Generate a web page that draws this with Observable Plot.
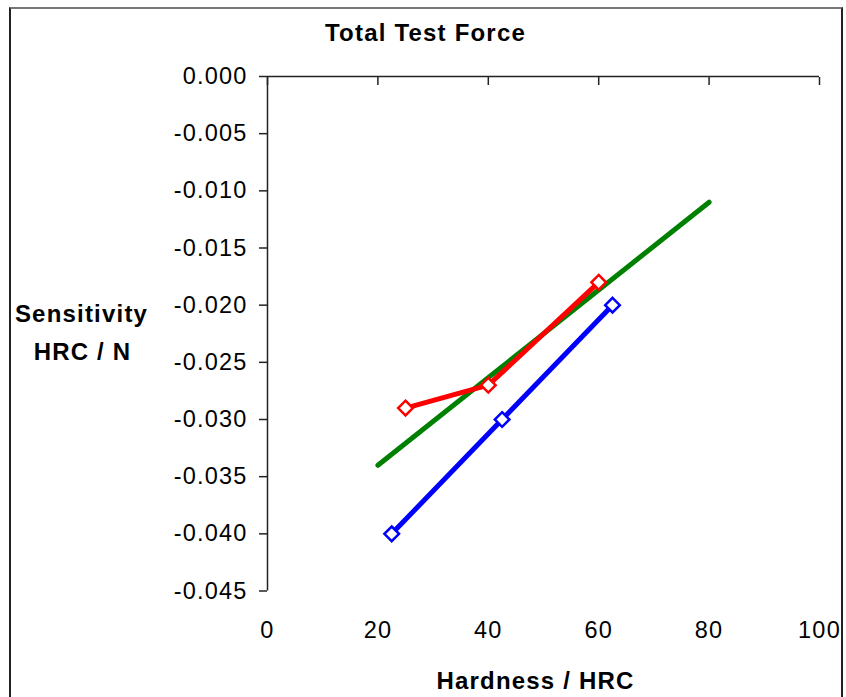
<!DOCTYPE html>
<html>
<head>
<meta charset="utf-8">
<script src="https://cdn.jsdelivr.net/npm/d3@7"></script>
<script src="https://cdn.jsdelivr.net/npm/@observablehq/plot@0.6"></script>
<style>
  html, body { margin: 0; padding: 0; background: #fff; overflow: hidden; }
  #wrap { position: relative; width: 846px; height: 697px; }
  #border { position: absolute; left: 9px; top: 7px; width: 830px; height: 720px;
            border-left: 2px solid #222; border-right: 2px solid #222; border-top: 2px solid #777;
            pointer-events: none; }
</style>
</head>
<body>
<div id="wrap"><div id="border"></div></div>
<script>
// ---- data ----
const redX = [25, 40, 60];
const redY = [-0.029, -0.027, -0.018];
const blueX = [22.5, 42.5, 62.5];
const blueY = [-0.040, -0.030, -0.020];
const greenX = [20, 80];
const greenY = [-0.034, -0.011];
const xTicks = [0, 20, 40, 60, 80, 100];
const yTicks = [0, -0.005, -0.010, -0.015, -0.020, -0.025, -0.030, -0.035, -0.040, -0.045];
const titleText = "Total Test Force";
const xTitle = "Hardness / HRC";
const yTitleLines = ["Sensitivity", "HRC / N"];

const red = redX.map((x, i) => ({x, y: redY[i]}));
const blue = blueX.map((x, i) => ({x, y: blueY[i]}));
const green = greenX.map((x, i) => ({x, y: greenY[i]}));

const W = 846, H = 697;
const mL = 267, mR = 27, mT = 76, mB = 106.5;
const boldStyle = {textAnchor: "middle", lineAnchor: "bottom", fontWeight: "bold", fontSize: 24, frameAnchor: "top-left"};

const chart = Plot.plot({
  width: W, height: H,
  marginLeft: mL, marginRight: mR, marginTop: mT, marginBottom: mB,
  style: {fontFamily: "'Liberation Sans', Arial, sans-serif", fontSize: "23.5px",
          letterSpacing: "1.2px", background: "transparent", color: "black"},
  x: {domain: [0, 100]},
  y: {domain: [-0.045, 0]},
  marks: [
    // axis lines
    Plot.ruleY([0], {stroke: "#222", strokeWidth: 1.5}),
    Plot.ruleX([0], {stroke: "#222", strokeWidth: 1.5}),
    // inward ticks on the top x axis line
    Plot.axisX({anchor: "top", ticks: xTicks, tickSize: 8, dy: 8, tickFormat: () => "", label: null, stroke: "#222", strokeWidth: 1.5}),
    // x tick labels at the bottom
    Plot.axisX({anchor: "bottom", ticks: xTicks, tickSize: 0, tickPadding: 30, label: null}),
    // y axis ticks + labels
    Plot.axisY({anchor: "left", ticks: yTicks, tickSize: 8, tickPadding: 12, tickFormat: d => d.toFixed(3), label: null, stroke: "#222", strokeWidth: 1.5}),
    // series
    Plot.line(green, {x: "x", y: "y", stroke: "#008000", strokeWidth: 5, strokeLinecap: "round"}),
    Plot.line(blue, {x: "x", y: "y", stroke: "#0000ff", strokeWidth: 5}),
    Plot.line(red, {x: "x", y: "y", stroke: "#ff0000", strokeWidth: 5}),
    Plot.dot(blue, {x: "x", y: "y", symbol: "diamond2", r: 6.6, fill: "white", stroke: "#0000ff", strokeWidth: 2.5}),
    Plot.dot(red, {x: "x", y: "y", symbol: "diamond2", r: 6.6, fill: "white", stroke: "#ff0000", strokeWidth: 2.5}),
    // titles
    Plot.text([titleText], {...boldStyle, text: d => d, dx: 425 - mL, dy: 40 - mT}),
    Plot.text([xTitle], {...boldStyle, text: d => d, dx: 535 - mL, dy: 688 - mT}),
    Plot.text([yTitleLines[0]], {...boldStyle, text: d => d, dx: 81 - mL, dy: 321 - mT}),
    Plot.text([yTitleLines[1]], {...boldStyle, text: d => d, dx: 82 - mL, dy: 359 - mT})
  ]
});
chart.style.position = "absolute";
chart.style.left = "0px";
chart.style.top = "0px";
chart.querySelectorAll("text").forEach(t => {
  if (t.closest("g") && t.closest("g").getAttribute("font-weight") === "bold") t.style.letterSpacing = "1.2px";
});
document.getElementById("wrap").prepend(chart);
</script>
</body>
</html>
